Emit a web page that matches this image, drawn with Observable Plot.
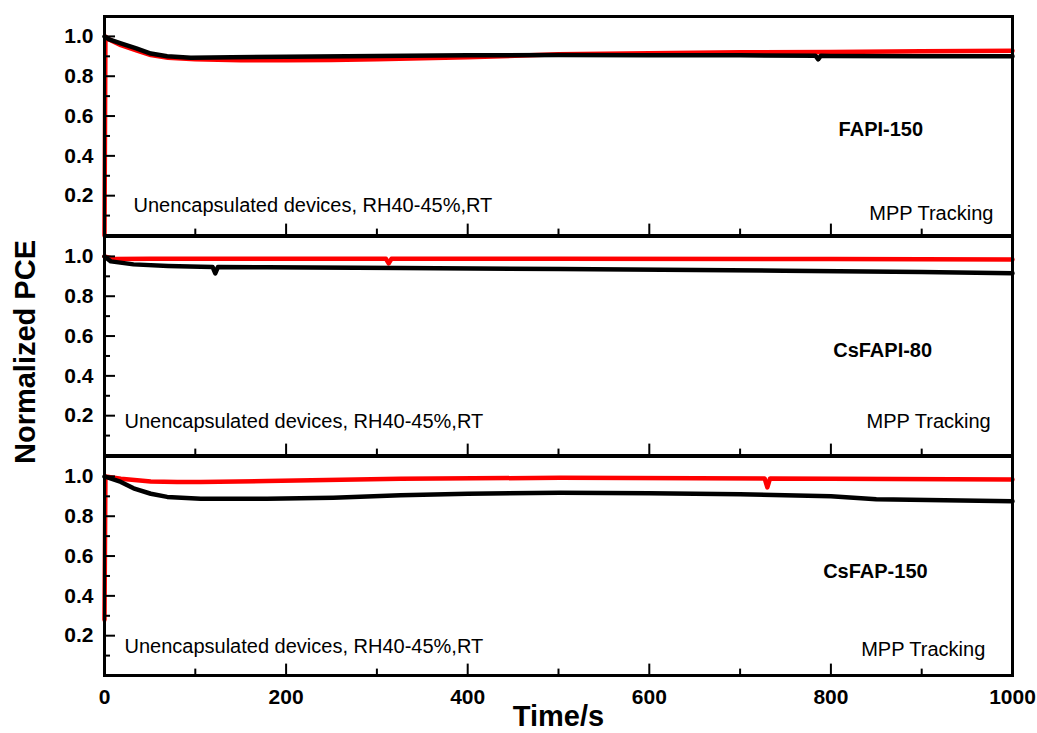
<!DOCTYPE html>
<html>
<head>
<meta charset="utf-8">
<script src="https://cdn.jsdelivr.net/npm/d3@7"></script>
<script src="https://cdn.jsdelivr.net/npm/@observablehq/plot@0.6"></script>
<style>
  body { margin: 0; background: #fff; }
  #chart { width: 1037px; height: 733px; }
</style>
</head>
<body>
<div id="chart"></div>
<script>
// ---------- data ----------
const panels = ["FAPI-150", "CsFAPI-80", "CsFAP-150"];
const seriesNames = ["red", "black"];

// FAPI-150
const fapiRedTime = [0, 1, 5, 18, 35, 51, 70, 100, 150, 200, 250, 300, 400, 500, 600, 700, 800, 900, 1000];
const fapiRedPCE  = [0, 1.0, 0.985, 0.956, 0.93, 0.906, 0.893, 0.885, 0.88, 0.88, 0.881, 0.885, 0.895, 0.91, 0.915, 0.92, 0.922, 0.925, 0.928];
const fapiBlackTime = [0, 5, 18, 35, 51, 69, 95, 140, 200, 300, 400, 500, 600, 700, 783, 786, 789, 800, 900, 1000];
const fapiBlackPCE  = [1.0, 0.985, 0.965, 0.94, 0.914, 0.90, 0.893, 0.895, 0.898, 0.902, 0.905, 0.906, 0.905, 0.905, 0.903, 0.885, 0.903, 0.902, 0.90, 0.90];

// CsFAPI-80
const csfapiRedTime = [0, 10, 50, 200, 310, 313, 316, 500, 800, 1000];
const csfapiRedPCE  = [1.0, 0.987, 0.988, 0.988, 0.988, 0.965, 0.988, 0.988, 0.987, 0.985];
const csfapiBlackTime = [0, 7, 32, 70, 106, 119, 122, 125, 179, 326, 502, 748, 900, 1000];
const csfapiBlackPCE  = [1.0, 0.975, 0.96, 0.952, 0.948, 0.947, 0.915, 0.947, 0.945, 0.942, 0.937, 0.928, 0.922, 0.915];

// CsFAP-150
const csfapRedTime = [0, 1, 18, 51, 80, 106, 179, 326, 502, 727, 730, 733, 800, 1000];
const csfapRedPCE  = [0.28, 1.0, 0.988, 0.975, 0.972, 0.972, 0.977, 0.988, 0.993, 0.99, 0.945, 0.99, 0.988, 0.985];
const csfapBlackTime = [0, 18, 32, 51, 69, 106, 179, 252, 326, 400, 502, 600, 700, 800, 850, 1000];
const csfapBlackPCE  = [1.0, 0.972, 0.94, 0.913, 0.897, 0.888, 0.888, 0.893, 0.905, 0.913, 0.918, 0.915, 0.91, 0.90, 0.885, 0.875];

const xMajorTicks = [0, 200, 400, 600, 800, 1000];
const xMinorTicks = [100, 300, 500, 700, 900];
const yMajorTicks = [0.2, 0.4, 0.6, 0.8, 1.0];
const yMinorTicks = [0.1, 0.3, 0.5, 0.7, 0.9];

const noteText = "Unencapsulated devices, RH40-45%,RT";
const trackText = "MPP Tracking";
const xTitle = "Time/s";
const yTitle = "Normalized PCE";

// ---------- build table ----------
function rows(panel, series, time, pce) {
  return time.map((t, i) => ({panel, series, t, v: pce[i]}));
}
const table = [
  ...rows(panels[0], "red", fapiRedTime, fapiRedPCE),
  ...rows(panels[0], "black", fapiBlackTime, fapiBlackPCE),
  ...rows(panels[1], "red", csfapiRedTime, csfapiRedPCE),
  ...rows(panels[1], "black", csfapiBlackTime, csfapiBlackPCE),
  ...rows(panels[2], "red", csfapRedTime, csfapRedPCE),
  ...rows(panels[2], "black", csfapBlackTime, csfapBlackPCE)
];

// ---------- layout ----------
const W = 1037, H = 733;
const mL = 104, mR = 25, mT = 15, mB = 57;
const fyPad = 0.005;
const frameW = W - mL - mR;
const bandH = (H - mT - mB) / (panels.length - fyPad) * (1 - fyPad);

const notePos  = {"FAPI-150": [32, 0.149], "CsFAPI-80": [22, 0.168], "CsFAP-150": [22, 0.145]};
const trackPos = {"FAPI-150": [979, 0.109], "CsFAPI-80": [976, 0.168], "CsFAP-150": [970, 0.13]};
const namePos  = {"FAPI-150": [855, 0.534], "CsFAPI-80": [857, 0.528], "CsFAP-150": [849, 0.52]};

const FONT = "'Liberation Sans', Arial, Helvetica, sans-serif";

const chart = Plot.plot({
  width: W,
  height: H,
  marginLeft: mL,
  marginRight: mR,
  marginTop: mT,
  marginBottom: mB,
  style: {fontFamily: FONT, color: "black", background: "white", overflow: "visible"},
  x: {domain: [0, 1000], label: null},
  y: {domain: [0, 1.1], label: null},
  fy: {domain: panels, paddingInner: fyPad, paddingOuter: 0, axis: null, label: null},
  color: {domain: seriesNames, range: ["#ff0000", "#000000"]},
  marks: [
    Plot.line(table, {x: "t", y: "v", z: "series", stroke: "series", fy: "panel", strokeWidth: 4.5, strokeLinejoin: "round"}),
    // inward y ticks (left edge of every panel)
    Plot.tickY(yMajorTicks, {y: d => d, insetRight: frameW - 11, strokeWidth: 2, stroke: "black"}),
    Plot.tickY(yMinorTicks, {y: d => d, insetRight: frameW - 6, strokeWidth: 2, stroke: "black"}),
    // inward x ticks (bottom edge of every panel)
    Plot.tickX(xMajorTicks, {x: d => d, insetTop: bandH - 12, strokeWidth: 2, stroke: "black"}),
    Plot.tickX(xMinorTicks, {x: d => d, insetTop: bandH - 7, strokeWidth: 2, stroke: "black"}),
    Plot.frame({stroke: "black", strokeWidth: 3}),
    // y tick labels
    Plot.axisY(yMajorTicks, {tickSize: 0, tickPadding: 11, tickFormat: d3.format(".1f"), fontSize: 21, fontWeight: "bold", label: null}),
    // x tick labels (bottom panel only)
    Plot.axisX(xMajorTicks, {tickSize: 0, tickPadding: 14, tickFormat: d3.format("d"), fontSize: 21, fontWeight: "bold", label: null}),
    // panel names
    Plot.text(panels, {fy: d => d, text: d => d, x: d => namePos[d][0], y: d => namePos[d][1],
      textAnchor: "middle", lineAnchor: "middle", fontSize: 20, fontWeight: "bold"}),
    // notes
    Plot.text(panels, {fy: d => d, text: () => noteText, x: d => notePos[d][0], y: d => notePos[d][1],
      textAnchor: "start", lineAnchor: "middle", fontSize: 20}),
    Plot.text(panels, {fy: d => d, text: () => trackText, x: d => trackPos[d][0], y: d => trackPos[d][1],
      textAnchor: "end", lineAnchor: "middle", fontSize: 20}),
    // axis titles
    Plot.text([xTitle], {facet: "super", frameAnchor: "bottom", dy: 41, text: d => d,
      lineAnchor: "middle", fontSize: 29, fontWeight: "bold"}),
    Plot.text([yTitle], {facet: "super", frameAnchor: "left", dx: -79, dy: 6, rotate: -90, text: d => d,
      lineAnchor: "middle", textAnchor: "middle", fontSize: 29, fontWeight: "bold"})
  ]
});
document.getElementById("chart").appendChild(chart);
</script>
</body>
</html>
